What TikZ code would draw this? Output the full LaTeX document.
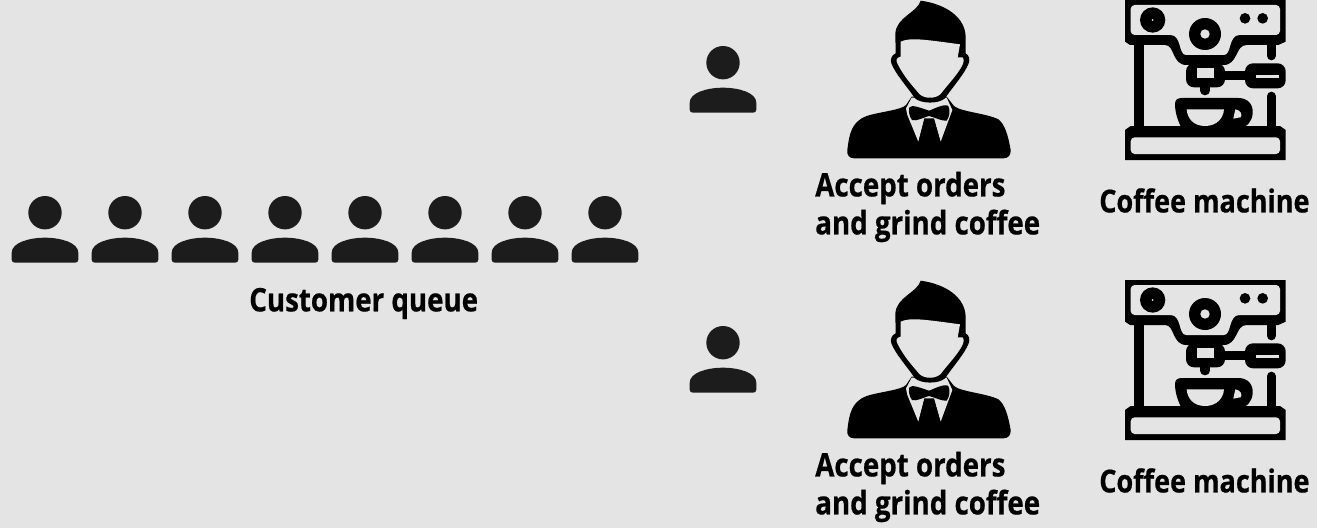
\documentclass[tikz,border=0pt]{standalone}
\usepackage{fontspec}
\setmainfont{Open Sans}[BoldFeatures={FakeStretch=0.855,FakeBold=0.6}]
\definecolor{bg}{HTML}{E4E4E4}
\definecolor{ink}{HTML}{1C1C1C}
\tikzset{
  lbl/.style={font=\fontsize{24.3pt}{28.5pt}\selectfont\bfseries, text=black, inner sep=0pt, align=left, anchor=west},
  lblsmall/.style={lbl, font=\fontsize{23.7pt}{28.5pt}\selectfont\bfseries},
  person/.pic={
    \fill[ink] (0,0) circle (16.7);
    \fill[ink] (-33.3,47) -- (-33.3,40) .. controls (-33.3,30) and (-16,25) .. (0,25)
      .. controls (16,25) and (33.3,30) .. (33.3,40) -- (33.3,47)
      .. controls (33.3,49) and (32,50) .. (30,50) -- (-30,50)
      .. controls (-32,50) and (-33.3,49) .. (-33.3,47) -- cycle;
  },
  barista/.pic={
    \begin{scope}[x=.25pt,y=-.25pt]
    \fill[black] (52,450) .. controls (58,400) and (65,365) .. (110,348)
      .. controls (150,335) and (215,330) .. (228,315) -- (245,290) -- (350,290) -- (372,318)
      .. controls (390,335) and (470,340) .. (505,358)
      .. controls (525,372) and (535,410) .. (542,450)
      .. controls (543,465) and (535,475) .. (520,475) -- (72,475)
      .. controls (58,475) and (50,465) .. (52,450) -- cycle;
    \fill[bg] (245,293) -- (228,325) -- (232,345) -- (265,425) -- (283,358) -- (312,358) -- (332,425) -- (367,330) -- (350,293) -- cycle;
    \fill[black] (283,355) -- (312,355) -- (332,428) -- (265,428) -- cycle;
    \fill[black] (238,322) .. controls (245,312) and (275,325) .. (297,332)
      .. controls (315,325) and (345,310) .. (355,318)
      .. controls (362,335) and (358,350) .. (350,362)
      .. controls (335,364) and (315,352) .. (297,348)
      .. controls (280,352) and (260,365) .. (246,360)
      .. controls (238,350) and (235,335) .. (238,322) -- cycle;
    \fill[black] (272,2) .. controls (345,12) and (405,50) .. (407,110) -- (407,160)
      .. controls (418,165) and (420,180) .. (416,190)
      .. controls (405,220) and (365,265) .. (345,295)
      .. controls (325,312) and (275,312) .. (255,295)
      .. controls (235,265) and (195,220) .. (184,190)
      .. controls (180,178) and (185,165) .. (197,160) -- (196,100)
      .. controls (200,50) and (262,38) .. (272,2) -- cycle;
    \fill[bg] (212,125) .. controls (240,112) and (280,118) .. (390,133) -- (383,172) -- (398,172)
      .. controls (405,180) and (399,195) .. (390,208)
      .. controls (375,232) and (348,260) .. (332,282)
      .. controls (316,297) and (284,297) .. (268,282)
      .. controls (248,258) and (222,230) .. (204,194)
      .. controls (196,182) and (199,172) .. (212,170) -- cycle;
    \end{scope}
  },
  machine/.pic={
    \begin{scope}[x=.25pt,y=-.25pt]
    \fill[black] (45,0) -- (527,0) -- (527,125) -- (505,135) -- (410,135)
      .. controls (375,135) and (385,195) .. (340,195) -- (230,195)
      .. controls (185,195) and (195,135) .. (165,135) -- (60,135) -- (45,125) -- cycle;
    \fill[bg,rounded corners=3pt] (62,15) -- (510,15) -- (510,105) -- (400,105)
      .. controls (355,105) and (365,165) .. (330,165) -- (240,165)
      .. controls (205,165) and (215,105) .. (170,105) -- (62,105) -- cycle;
    \fill[black] (128,60) circle[radius=38];
    \fill[bg] (128,60) circle[radius=3];
    \fill[black] (285,102) circle[radius=48];
    \fill[bg] (285,102) circle[radius=14];
    \fill[black] (405,55) circle[radius=16];
    \fill[black] (458,55) circle[radius=16];
    \fill[black] (72,130) rectangle (103,385);
    \draw[black,line width=7pt,line cap=round] (484,125) -- (484,167);
    \draw[black,line width=7pt,line cap=round] (484,289) -- (484,385);
    \fill[black,rounded corners=6pt] (228,190) rectangle (345,262);
    \fill[bg] (260,205) rectangle (312,233);
    \draw[black,line width=7pt,line cap=round] (285,255) -- (285,272);
    \fill[black] (340,212) rectangle (415,240);
    \fill[black,rounded corners=6pt] (405,190) rectangle (527,265);
    \fill[bg] (437,224) rectangle (507,233);
    \fill[black] (195,312) .. controls (195,300) and (202,294) .. (215,294) -- (385,294)
      .. controls (415,294) and (430,315) .. (428,340)
      .. controls (426,365) and (410,380) .. (395,385) -- (215,385)
      .. controls (205,365) and (195,340) .. (195,312) -- cycle;
    \fill[bg] (230,328) -- (342,328) .. controls (340,355) and (320,378) .. (285,378)
      .. controls (250,378) and (232,355) .. (230,328) -- cycle;
    \fill[bg] (376,328) .. controls (392,330) and (398,345) .. (392,352)
      .. controls (385,355) and (378,352) .. (370,356) -- cycle;
    \fill[black] (45,390) -- (62,378) -- (510,378) -- (527,390) -- (527,480) -- (45,480) -- cycle;
    \fill[bg,rounded corners=3pt] (62,412) rectangle (510,462);
    \end{scope}
  }
}
\begin{document}
\begin{tikzpicture}[x=.75pt,y=-.75pt]
\fill[bg] (0,0) rectangle (1317,528);
\useasboundingbox (0,0) rectangle (1317,528);
\foreach \i in {0,...,7} { \pic at ({45+80*\i},212.7) {person}; }
\pic at (723,62.7) {person};
\pic at (723,342.7) {person};
\pic at (830,0) {barista};
\pic at (830,280) {barista};
\pic at (1110,0) {machine};
\pic at (1110,280) {machine};
\node[lbl] (q) at (249,303.5) {Customer queue};
\node[lbl] (a1) at (815,207) {Accept orders\\and grind coffee};
\node[lbl] (a2) at (815,487) {Accept orders\\and grind coffee};
\node[lblsmall] (c1) at (1099,200.5) {Coffee machine};
\node[lblsmall] (c2) at (1099,480.5) {Coffee machine};
\end{tikzpicture}
\end{document}
